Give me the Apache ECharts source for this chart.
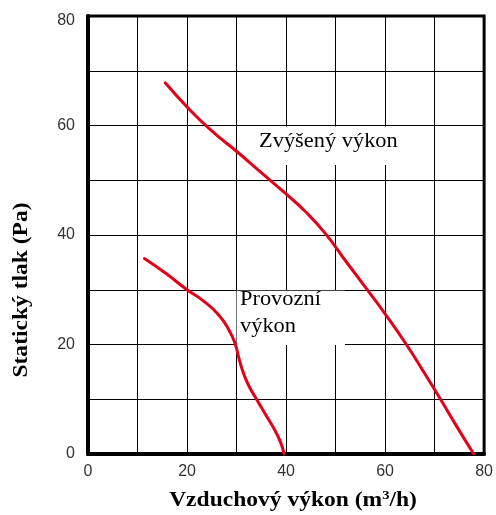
<!DOCTYPE html>
<html><head><meta charset="utf-8">
<script src="https://cdn.jsdelivr.net/npm/echarts@6/dist/echarts.min.js"></script>
<style>html,body{margin:0;padding:0;background:#fff}#c{width:496px;height:515px}</style>
</head><body><div id="c"></div>
<script>
const xTicks = [0, 20, 40, 60, 80];
const yTicks = [0, 20, 40, 60, 80];
const zvyseny = [[15.6,67.8],[20,63.4],[25,59],[30,55.3],[35,51.4],[40,47.5],[44,44.2],[48,40.2],[52,35.3],[56.5,29.9],[60,25.6],[64.3,20],[67.8,15],[71.2,10],[74.5,5],[77.9,0]];
const provozni = [[11.4,35.7],[15.7,33],[20,30],[23.1,28.1],[26.4,25.4],[28.5,22.6],[29.7,20.2],[30.4,17.8],[31.2,15.3],[32.4,12.6],[34.1,9.9],[35.8,7.3],[37.7,4.4],[39,1.9],[39.6,0]];
const labelZ = 'Zvýšený výkon';
const labelP = ['Provozní', 'výkon'];
const xTitle = ['Vzduchový výkon (m', '3', '/h)'];
const yTitle = 'Statický tlak (Pa)';

const chart = echarts.init(document.getElementById('c'));
const lineStyle = {color:'#e2001a', width:3, cap:'round', join:'round'};
chart.setOption({
  animation:false,
  grid:{left:88,right:8,top:16,bottom:61,show:true,borderColor:'#000',borderWidth:3,backgroundColor:'#fff'},
  xAxis:{type:'value',min:0,max:80,interval:10,
    axisLine:{show:true,onZero:false,lineStyle:{color:'#000',width:4}},
    axisTick:{show:false},
    splitLine:{show:true,lineStyle:{color:'#000',width:1}},
    axisLabel:{margin:10,color:'#333',fontFamily:'Liberation Sans',fontSize:16,
      formatter:v=>xTicks.includes(v)?String(v):''}},
  yAxis:{type:'value',min:0,max:80,interval:10,
    axisLine:{show:true,onZero:false,lineStyle:{color:'#000',width:4}},
    axisTick:{show:false},
    splitLine:{show:true,lineStyle:{color:'#000',width:1}},
    axisLabel:{margin:13,color:'#333',fontFamily:'Liberation Sans',fontSize:16,
      formatter:v=>yTicks.includes(v)?(v===80?'{top|80}':String(v)):'',
      rich:{top:{fontFamily:'Liberation Sans',fontSize:16,color:'#333',padding:[10,0,0,0]}}}},
  series:[
    {type:'line',data:zvyseny,smooth:0.5,symbol:'none',lineStyle,z:5},
    {type:'line',data:provozni,smooth:0.5,symbol:'none',lineStyle,z:5}
  ]
});

function px(p){return chart.convertToPixel({gridIndex:0},p);}
const zBox = [px([30.4,59.8]), px([69.8,52.8])];
const pBox = [px([30,29.8]), px([51.9,19.9])];
const serif = 'Liberation Serif';
const sx = 1.12;
chart.setOption({graphic:[
  {type:'rect',z:1,shape:{x:zBox[0][0],y:zBox[0][1],width:zBox[1][0]-zBox[0][0],height:zBox[1][1]-zBox[0][1]},style:{fill:'#fff'}},
  {type:'rect',z:1,shape:{x:pBox[0][0],y:pBox[0][1],width:pBox[1][0]-pBox[0][0],height:pBox[1][1]-pBox[0][1]},style:{fill:'#fff'}},
  {type:'text',z:1,x:259,y:152,scaleX:sx,style:{text:labelZ,font:'20px "Liberation Serif"',fill:'#000',textVerticalAlign:'bottom'}},
  {type:'text',z:1,x:240,y:310,scaleX:sx,style:{text:labelP[0],font:'20px "Liberation Serif"',fill:'#000',textVerticalAlign:'bottom'}},
  {type:'text',z:1,x:240,y:337,scaleX:sx,style:{text:labelP[1],font:'20px "Liberation Serif"',fill:'#000',textVerticalAlign:'bottom'}},
  {type:'text',z:1,x:293,y:512,scaleX:sx,style:{
     text:'{t|'+xTitle[0]+'}{s|'+xTitle[1]+'}{t|'+xTitle[2]+'}',
     rich:{t:{fontFamily:serif,fontWeight:'bold',fontSize:21,fill:'#000'},s:{fontFamily:serif,fontWeight:'bold',fontSize:13,fill:'#000',verticalAlign:'top',padding:[0,0,10,0]}},
     align:'center',verticalAlign:'bottom'}},
  {type:'text',z:1,x:32,y:290,rotation:Math.PI/2,scaleX:sx,style:{text:yTitle,font:'bold 21px "Liberation Serif"',fill:'#000',align:'center',verticalAlign:'bottom'}}
]});
</script></body></html>
